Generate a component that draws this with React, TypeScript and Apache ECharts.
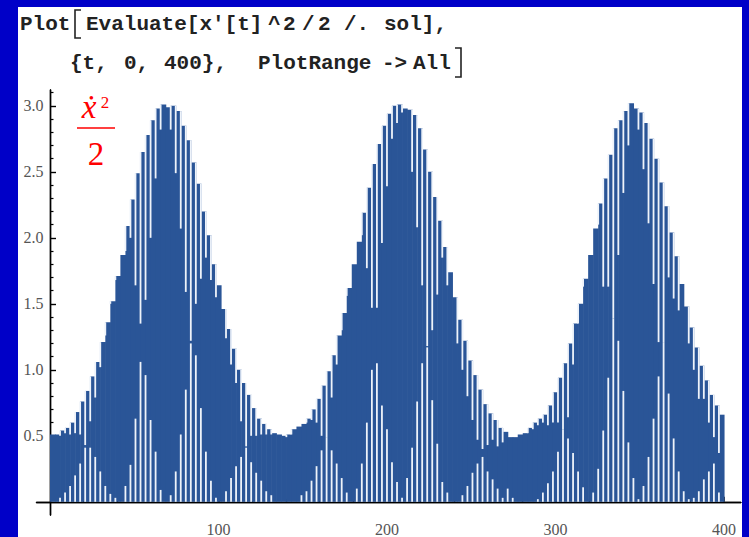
import React, { useEffect, useRef } from "react";
import * as echarts from "echarts";

const TOP: number[] = [
  0.51, 0.51, 0.54, 0.56, 0.6, 0.68, 0.76, 0.84, 0.95, 1.06, 1.21, 1.36, 1.52, 1.71, 1.87, 2.09, 2.29, 2.49, 2.65, 2.78, 2.89, 2.98,
  3.01, 2.99, 3.0, 2.96, 2.85, 2.74, 2.57, 2.41, 2.2, 2.02, 1.8, 1.64, 1.46, 1.31, 1.16, 1.0, 0.9, 0.81, 0.71, 0.63, 0.59, 0.55, 0.52, 0.51,
  0.5, 0.51, 0.55, 0.57, 0.59, 0.63, 0.7, 0.78, 0.88, 0.99, 1.11, 1.26, 1.43, 1.62, 1.8, 1.97, 2.19, 2.38, 2.56, 2.71, 2.85, 2.94, 3.0,
  3.01, 2.98, 2.97, 2.93, 2.83, 2.67, 2.5, 2.31, 2.13, 1.93, 1.74, 1.55, 1.38, 1.22, 1.07, 0.96, 0.85, 0.74, 0.67, 0.62, 0.56, 0.53, 0.49,
  0.49, 0.51, 0.52, 0.56, 0.6, 0.63, 0.66, 0.73, 0.83, 0.94, 1.05, 1.2, 1.35, 1.5, 1.69, 1.87, 2.07, 2.26, 2.45, 2.63, 2.83, 2.89, 2.96,
  3.02, 2.98, 2.95, 2.87, 2.75, 2.6, 2.42, 2.24, 2.04, 1.86, 1.65, 1.48, 1.32, 1.17, 1.03, 0.92, 0.81, 0.73, 0.66,
];

// Lower end of the white gap hanging from the top at each column's left edge (null = none)
const HANG: (number | null)[] = [
  null, null, 0.5, 0.52, 0.51, 0.52, 0.51, 0.43, 0.61, 0.79, 1.02, 1.26, 1.5, 1.68, null, 1.9, 2.0, 1.64, 1.35, 1.53, 2.0, 2.45,
  2.82, null, 2.82, 2.49, 2.07, 1.59, 1.22, 1.5, 1.69, 1.85, 1.68, 1.55, null, 1.24, 1.04, 0.9, 0.61, 0.42, 0.5, 0.5, 0.51, 0.51, 0.51, null,
  null, 0.49, 0.51, null, null, 0.6, 0.62, 0.6, 0.5, 0.49, 0.79, 1.04, 1.3, 1.56, null, null, 2.02, 1.77, 1.47, 1.47, 1.96, 2.39, 2.75,
  2.87, 2.95, null, 2.5, 2.08, 1.64, 1.18, 1.3, 1.57, 1.85, 1.64, null, 1.2, 1.0, 0.8, 0.62, 0.47, 0.4, 0.43, 0.47, 0.42, 0.45, null,
  null, null, null, 0.52, 0.55, 0.58, 0.6, 0.58, 0.6, 0.6, 0.55, 0.64, 1.04, 1.35, 1.63, null, null, 2.1, 1.63, 1.63, 1.39, 1.87, 2.34,
  2.7, null, 2.82, 2.52, 2.11, 1.65, 1.21, 1.21, 1.7, 1.54, 1.45, null, 1.2, 1.0, 0.78, 0.78, 0.6, 0.49, 0.37,
];

// Upper end of the white gap rising from zero at each column's left edge (0 = none)
const RISE: number[] = [
  0, 0, 0.03, 0.07, 0.12, 0.2, 0.29, 0.41, 0.41, 0.34, 0.23, 0.12, 0.06, 0.03, 0, 0.12, 0.28, 0.63, 1.06, 0.96, 0.62, 0.38,
  0.09, 0, 0.05, 0.23, 0.51, 0.85, 1.2, 1.11, 0.71, 0.38, 0.16, 0.03, 0, 0.08, 0.18, 0.27, 0.34, 0.41, 0.3, 0.22, 0.16, 0.08, 0.05, 0,
  0, 0, 0, 0, 0.05, 0.08, 0.16, 0.27, 0.39, 0.49, 0.39, 0.29, 0.18, 0.07, 0, 0.1, 0.29, 0.6, 1.0, 1.05, 0.73, 0.55, 0.3,
  0.15, 0.03, 0.18, 0.41, 0.76, 1.05, 1.17, 0.77, 0.44, 0.15, 0.07, 0, 0, 0.05, 0.12, 0.22, 0.29, 0.34, 0.23, 0.17, 0.1, 0.03, 0.1,
  0.03, 0, 0, 0, 0, 0.02, 0.07, 0.14, 0.23, 0.38, 0.55, 0.48, 0.37, 0.23, 0.11, 0, 0.07, 0.25, 0.54, 0.94, 1.39, 1.22, 0.84,
  0.45, 0.18, 0.02, 0.12, 0.34, 0.63, 0.95, 1.21, 0.82, 0.48, 0.23, 0.08, 0.02, 0.03, 0.08, 0.17, 0.23, 0.29, 0.07,
];

const X_MAJOR = [100, 200, 300, 400];
const X_MINOR = [20, 40, 60, 80, 120, 140, 160, 180, 220, 240, 260, 280, 320, 340, 360, 380];
const Y_MAJOR = [0.5, 1.0, 1.5, 2.0, 2.5, 3.0];
const Y_MINOR = [0.1, 0.2, 0.3, 0.4, 0.6, 0.7, 0.8, 0.9, 1.1, 1.2, 1.3, 1.4, 1.6, 1.7, 1.8, 1.9, 2.1, 2.2, 2.3, 2.4, 2.6, 2.7, 2.8, 2.9, 3.1];

const BLUE = "#2a5597";
const GAP = "#eef3fa";
const FRAME = "#0000c8";

export default function App() {
  const ref = useRef<HTMLDivElement>(null);
  useEffect(() => {
    if (!ref.current) return;
    const chart = echarts.init(ref.current, undefined, { renderer: "svg" });
    const N = TOP.length;
    const colW = 400 / N;
    const colData = TOP.map((v, k) => [k * colW, (k + 1) * colW, v]);
    const gapData: number[][] = [];
    TOP.forEach((v, k) => {
      const t = k * colW;
      const upTo = k > 0 ? Math.max(TOP[k - 1], v) : v;
      const h = HANG[k];
      if (h !== null && h < upTo) gapData.push([t, h, upTo]);
      const r = RISE[k];
      if (r > 0) gapData.push([t, 0, r]);
    });

    const tickStyle = { color: "#000", width: 1.4 };
    const labelFont = { color: "#555", fontFamily: "Liberation Serif", fontSize: 16 };
    const codeFont = { fontFamily: "Liberation Mono", fontWeight: "bold", fontSize: 21, fill: "#222", verticalAlign: "middle" };
    const code = (text: string, x: number, y: number) => ({ type: "text", x, y, style: { text, ...codeFont } });

    chart.setOption({
      animation: false,
      backgroundColor: "#ffffff",
      grid: { left: 36.5, right: 8.2, top: 90, bottom: 10.4, containLabel: false },
      xAxis: [
        {
          type: "value", min: -8, max: 410, position: "bottom",
          axisLine: { show: true, onZero: true, onZeroAxisIndex: 0, lineStyle: tickStyle },
          axisTick: { show: true, inside: true, length: 5, customValues: X_MAJOR, lineStyle: { color: "#000", width: 1.6 } },
          axisLabel: { show: true, customValues: X_MAJOR, margin: 6, formatter: (v: number) => String(v), ...labelFont },
          splitLine: { show: false },
        },
        {
          type: "value", min: -8, max: 410, position: "bottom",
          axisLine: { show: true, onZero: true, onZeroAxisIndex: 0, lineStyle: tickStyle },
          axisTick: { show: true, inside: true, length: 3, customValues: X_MINOR, lineStyle: { color: "#000", width: 1.4 } },
          axisLabel: { show: false },
          splitLine: { show: false },
        },
      ],
      yAxis: [
        {
          type: "value", min: -0.1, max: 3.12, position: "left",
          axisLine: { show: true, onZero: true, onZeroAxisIndex: 0, lineStyle: tickStyle },
          axisTick: { show: true, inside: true, length: 6, customValues: Y_MAJOR, lineStyle: { color: "#000", width: 1.4 } },
          axisLabel: { show: true, customValues: Y_MAJOR, margin: -7, formatter: (v: number) => v.toFixed(1), ...labelFont },
          splitLine: { show: false },
        },
        {
          type: "value", min: -0.1, max: 3.12, position: "left",
          axisLine: { show: true, onZero: true, onZeroAxisIndex: 0, lineStyle: tickStyle },
          axisTick: { show: true, inside: true, length: 3.5, customValues: Y_MINOR, lineStyle: { color: "#000", width: 1.2 } },
          axisLabel: { show: false },
          splitLine: { show: false },
        },
      ],
      series: [
        {
          type: "custom", xAxisIndex: 0, yAxisIndex: 0, clip: false, z: 1,
          data: colData,
          renderItem: (params: any, api: any) => {
            const p0 = api.coord([api.value(0), api.value(2)]);
            const p1 = api.coord([api.value(1), 0]);
            return {
              type: "rect",
              shape: { x: p0[0], y: p0[1], width: p1[0] - p0[0] + 0.6, height: p1[1] - p0[1] },
              style: { fill: BLUE },
            };
          },
        },
        {
          type: "custom", xAxisIndex: 0, yAxisIndex: 0, clip: false, z: 2,
          data: gapData,
          renderItem: (params: any, api: any) => {
            const a = api.coord([api.value(0), api.value(1)]);
            const b = api.coord([api.value(0), api.value(2)]);
            return {
              type: "line",
              shape: { x1: a[0], y1: a[1], x2: b[0], y2: b[1] },
              style: { stroke: GAP, lineWidth: 1.8 },
            };
          },
        },
      ],
      graphic: [
        code("Plot", 20, 24),
        { type: "polyline", shape: { points: [[81, 10], [75, 10], [75, 38], [81, 38]] }, style: { stroke: "#222", lineWidth: 1.6, fill: "none" } },
        code("Evaluate[x'[t]", 86, 24),
        code("^", 268, 24),
        code("2", 283, 24),
        code("/", 302, 24),
        code("2", 318, 24),
        code("/.", 344, 24),
        code("sol],", 384, 24),
        code("{t,", 70, 63),
        code("0,", 124, 63),
        code("400},", 164, 63),
        code("PlotRange", 258, 63),
        code("->", 382, 63),
        code("All", 413, 63),
        { type: "polyline", shape: { points: [[455, 48], [461, 48], [461, 77], [455, 77]] }, style: { stroke: "#222", lineWidth: 1.6, fill: "none" } },
        { type: "text", x: 89, y: 107, style: { text: "ẋ", fontFamily: "Liberation Serif", fontStyle: "italic", fontSize: 33, fill: "#ff0000", textAlign: "center", verticalAlign: "middle" } },
        { type: "text", x: 105, y: 102, style: { text: "2", fontFamily: "Liberation Serif", fontSize: 17, fill: "#ff0000", textAlign: "center", verticalAlign: "middle" } },
        { type: "line", shape: { x1: 77, y1: 128, x2: 115, y2: 128 }, style: { stroke: "#ff0000", lineWidth: 1.5 } },
        { type: "text", x: 96, y: 154, style: { text: "2", fontFamily: "Liberation Serif", fontSize: 33, fill: "#ff0000", textAlign: "center", verticalAlign: "middle" } },
        { type: "rect", z: 100, shape: { x: 0, y: 0, width: 749, height: 7 }, style: { fill: FRAME } },
        { type: "rect", z: 100, shape: { x: 0, y: 0, width: 18, height: 537 }, style: { fill: FRAME } },
        { type: "rect", z: 100, shape: { x: 742, y: 0, width: 7, height: 537 }, style: { fill: FRAME } },
      ],
    });
    return () => chart.dispose();
  }, []);
  return <div ref={ref} style={{ position: "absolute", left: 0, top: 0, width: 749, height: 537 }} />;
}
